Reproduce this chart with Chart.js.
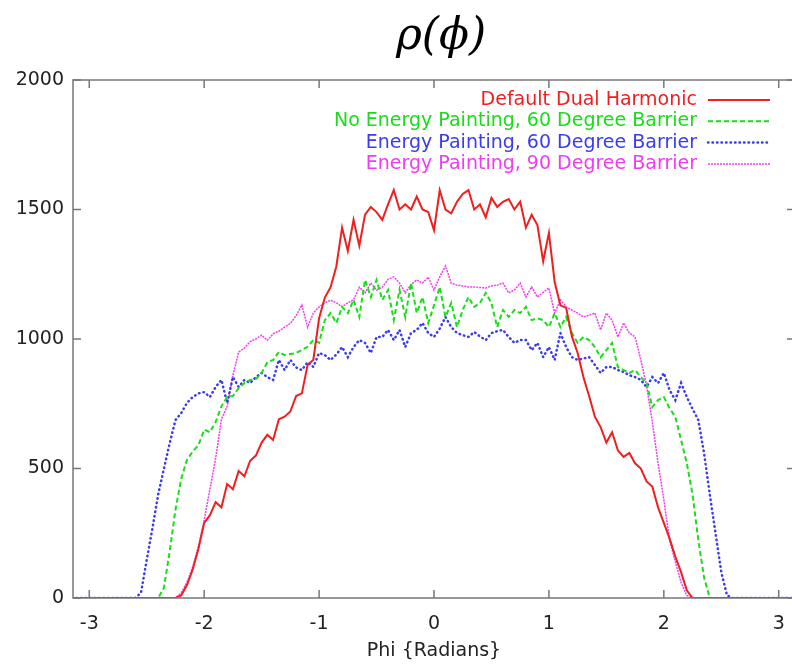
<!DOCTYPE html>
<html>
<head>
<meta charset="utf-8">
<script src="https://cdn.jsdelivr.net/npm/chart.js@4.4.1/dist/chart.umd.min.js"></script>
<style>
  body { margin: 0; background: #fff; overflow: hidden; }
  #wrap { position: relative; width: 800px; height: 666px; }
  #title { position: absolute; left: 341px; width: 200px; top: 12px; text-align: center;
           font: italic 44px "DejaVu Serif", serif; line-height: 44px; color: #000; }
</style>
</head>
<body>
<div id="wrap">
  <div id="title">ρ(ϕ)</div>
  <canvas id="rhoChart" width="800" height="666"></canvas>
</div>
<script>
// phi grid (radians)
const phi = [
  -3.15,-3.10,-3.05,-3.00,-2.95,-2.90,-2.85,-2.80,-2.75,-2.70,
  -2.65,-2.60,-2.55,-2.50,-2.45,-2.40,-2.35,-2.30,-2.25,-2.20,
  -2.15,-2.10,-2.05,-2.00,-1.95,-1.90,-1.85,-1.80,-1.75,-1.70,
  -1.65,-1.60,-1.55,-1.50,-1.45,-1.40,-1.35,-1.30,-1.25,-1.20,
  -1.15,-1.10,-1.05,-1.00,-0.95,-0.90,-0.85,-0.80,-0.75,-0.70,
  -0.65,-0.60,-0.55,-0.50,-0.45,-0.40,-0.35,-0.30,-0.25,-0.20,
  -0.15,-0.10,-0.05,0.00,0.05,0.10,0.15,0.20,0.25,0.30,
  0.35,0.40,0.45,0.50,0.55,0.60,0.65,0.70,0.75,0.80,
  0.85,0.90,0.95,1.00,1.05,1.10,1.15,1.20,1.25,1.30,
  1.35,1.40,1.45,1.50,1.55,1.60,1.65,1.70,1.75,1.80,
  1.85,1.90,1.95,2.00,2.05,2.10,2.15,2.20,2.25,2.30,
  2.35,2.40,2.45,2.50,2.55,2.60,2.65,2.70,2.75,2.80,
  2.85,2.90,2.95,3.00,3.05,3.10,3.15
];

// Default Dual Harmonic
const dualHarmonic = [
  0,0,0,0,0,0,0,0,0,0,
  0,0,0,0,0,0,0,0,0,10,
  50,110,190,290,320,370,350,440,420,490,
  470,530,550,600,630,610,690,700,720,780,
  790,900,920,1080,1160,1200,1280,1430,1340,1460,
  1360,1480,1510,1490,1460,1520,1575,1500,1520,1500,
  1550,1500,1490,1420,1575,1500,1485,1530,1560,1575,
  1500,1520,1470,1545,1510,1530,1540,1500,1530,1430,
  1480,1440,1300,1410,1220,1130,1120,1010,946,853,
  780,700,660,600,640,570,545,560,520,500,
  450,430,350,290,230,160,100,30,0,0,
  0,0,0,0,0,0,0,0,0,0,
  0,0,0,0,0,0,0
];

// No Energy Painting, 60 Degree Barrier
const noPaint60 = [
  0,0,0,0,0,0,0,0,0,0,
  0,0,0,0,0,0,40,180,340,460,
  533,565,590,650,640,680,740,776,780,810,
  830,842,845,869,910,919,950,938,942,946,
  957,970,996,985,1073,1100,1062,1124,1100,1151,
  1085,1228,1162,1228,1151,1189,1073,1190,1085,1216,
  1100,1162,1062,1130,1201,1085,1139,1046,1112,1162,
  1124,1139,1178,1139,1046,1112,1085,1112,1100,1124,
  1073,1080,1073,1046,1100,1046,1085,1023,985,1008,
  996,969,930,957,985,892,880,869,880,853,
  830,737,764,776,733,700,610,521,400,224,
  80,0,0,0,0,0,0,0,0,0,
  0,0,0,0,0,0,0
];

// Energy Painting, 60 Degree Barrier
const paint60 = [
  0,0,0,0,0,0,0,0,0,0,
  0,0,20,147,270,400,500,598,687,714,
  753,776,790,795,776,815,842,753,853,815,
  842,830,853,869,853,842,919,880,919,890,
  880,911,892,946,938,919,940,969,930,969,
  996,985,946,1008,1008,1035,996,1035,969,1023,
  1035,1062,1023,1008,1040,1085,1046,1023,1015,1008,
  1027,1010,996,1023,1030,1035,1008,985,996,996,
  957,985,930,969,919,1023,969,930,919,925,
  930,900,869,892,892,880,873,860,853,842,
  815,853,830,869,803,764,830,776,730,687,
  560,400,250,100,10,0,0,0,0,0,
  0,0,0,0,0,0,0
];

// Energy Painting, 90 Degree Barrier
const paint90 = [
  0,0,0,0,0,0,0,0,0,0,
  0,0,0,0,0,0,0,0,0,20,
  60,120,200,300,420,540,690,740,860,950,
  965,990,1000,1015,995,1020,1030,1046,1060,1090,
  1131,1046,1100,1124,1139,1150,1140,1124,1140,1151,
  1200,1178,1216,1189,1200,1230,1240,1216,1178,1210,
  1228,1216,1239,1189,1240,1282,1216,1208,1205,1201,
  1201,1199,1197,1205,1208,1216,1178,1189,1216,1162,
  1201,1162,1180,1197,1100,1151,1124,1112,1100,1085,
  1092,1100,1035,1100,1073,1008,1062,1023,1008,919,
  820,680,520,380,224,140,60,10,0,0,
  0,0,0,0,0,0,0,0,0,0,
  0,0,0,0,0,0,0
];

const xTicks = [-3, -2, -1, 0, 1, 2, 3];
const yTicks = [0, 500, 1000, 1500, 2000];

function pts(vals) {
  return phi.map((p, i) => ({ x: p, y: vals[i] }));
}

// marco gris con marcas hacia dentro (estilo gnuplot)
const framePlugin = {
  id: 'frame',
  afterDatasetsDraw(chart) {
    const { ctx, chartArea: a, scales: { x, y } } = chart;
    ctx.save();
    ctx.strokeStyle = '#777';
    ctx.lineWidth = 1.5;
    ctx.strokeRect(a.left, a.top, a.right - a.left, a.bottom - a.top);
    ctx.beginPath();
    x.ticks.forEach(t => {
      const px = x.getPixelForValue(t.value);
      ctx.moveTo(px, a.bottom); ctx.lineTo(px, a.bottom - 8);
      ctx.moveTo(px, a.top); ctx.lineTo(px, a.top + 8);
    });
    y.ticks.forEach(t => {
      const py = y.getPixelForValue(t.value);
      ctx.moveTo(a.left, py); ctx.lineTo(a.left + 8, py);
      ctx.moveTo(a.right, py); ctx.lineTo(a.right - 8, py);
    });
    ctx.stroke();
    ctx.restore();
  }
};

// leyenda: texto alineado a la derecha y muestra de línea a su derecha
const legendPlugin = {
  id: 'keyBox',
  afterDatasetsDraw(chart) {
    const ctx = chart.ctx;
    ctx.save();
    ctx.font = '19px "DejaVu Sans"';
    ctx.textAlign = 'right';
    ctx.textBaseline = 'middle';
    chart.data.datasets.forEach((ds, i) => {
      const yy = 100 + i * 21.3;
      ctx.fillStyle = ds.borderColor;
      ctx.fillText(ds.label, 697, yy);
      ctx.strokeStyle = ds.borderColor;
      ctx.lineWidth = ds.borderWidth;
      ctx.setLineDash(ds.borderDash || []);
      ctx.lineCap = ds.borderCapStyle || 'butt';
      ctx.beginPath();
      ctx.moveTo(708, yy);
      ctx.lineTo(770, yy);
      ctx.stroke();
    });
    ctx.restore();
  }
};

const ctx = document.getElementById('rhoChart').getContext('2d');
new Chart(ctx, {
  type: 'line',
  data: {
    datasets: [
      { label: 'Default Dual Harmonic', data: pts(dualHarmonic),
        borderColor: '#f01e1e', borderWidth: 2 },
      { label: 'No Energy Painting, 60 Degree Barrier', data: pts(noPaint60),
        borderColor: '#18dd18', borderWidth: 2, borderDash: [5, 3] },
      { label: 'Energy Painting, 60 Degree Barrier', data: pts(paint60),
        borderColor: '#3c3cee', borderWidth: 2.5, borderDash: [0.5, 4], borderCapStyle: 'round' },
      { label: 'Energy Painting, 90 Degree Barrier', data: pts(paint90),
        borderColor: '#f03cf0', borderWidth: 1.5, borderDash: [2, 1] }
    ]
  },
  options: {
    responsive: false,
    animation: false,
    devicePixelRatio: 1,
    layout: { padding: { top: 80, right: 5, left: 0, bottom: 0 } },
    elements: { point: { radius: 0 }, line: { tension: 0 } },
    plugins: { legend: { display: false }, tooltip: { enabled: false } },
    scales: {
      x: {
        type: 'linear', min: -3.1416, max: 3.1416,
        afterBuildTicks: s => { s.ticks = xTicks.map(v => ({ value: v })); },
        afterFit: s => { s.height = 68; },
        grid: { display: false, drawTicks: false },
        border: { display: false },
        ticks: { font: { family: 'DejaVu Sans', size: 19 }, color: '#222', padding: 15,
                 maxRotation: 0, autoSkip: false, callback: v => String(v) },
        title: { display: true, text: 'Phi {Radians}', color: '#222',
                 font: { family: 'DejaVu Sans', size: 19 }, padding: { top: 0, bottom: 4 } }
      },
      y: {
        min: 0, max: 2000,
        afterBuildTicks: s => { s.ticks = yTicks.map(v => ({ value: v })); },
        afterFit: s => { s.width = 73; },
        grid: { display: false, drawTicks: false },
        border: { display: false },
        ticks: { font: { family: 'DejaVu Sans', size: 19 }, color: '#222', padding: 9,
                 callback: v => String(v) }
      }
    }
  },
  plugins: [framePlugin, legendPlugin]
});
</script>
</body>
</html>
